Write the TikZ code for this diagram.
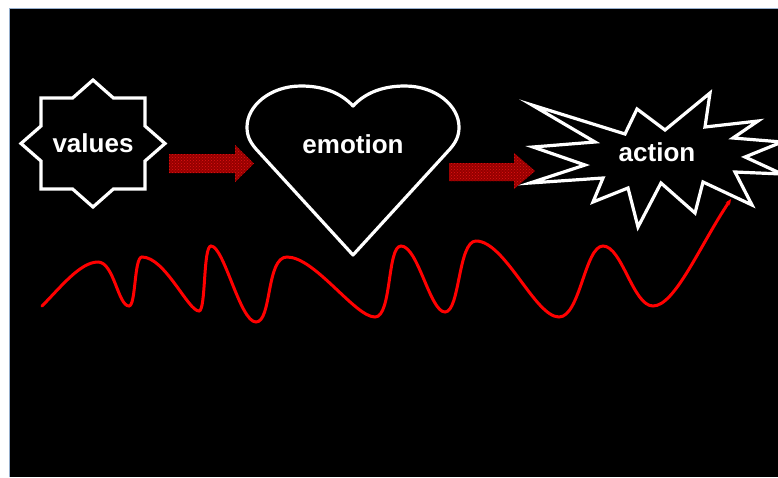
\documentclass[tikz,border=0pt]{standalone}
\usepackage{fontspec}
\setmainfont{Liberation Sans}
\usetikzlibrary{patterns,arrows.meta}
\definecolor{frame}{RGB}{150,175,205}
\definecolor{darkred}{RGB}{150,0,0}
\definecolor{hatchred}{RGB}{225,20,20}
\definecolor{wavered}{RGB}{255,0,0}
\tikzset{
  outline/.style={draw=white, line width=3.2pt, line join=miter, fill=black},
  label/.style={text=white, font=\fontsize{26}{30}\selectfont\bfseries, inner sep=0pt},
  blockarrow/.style={fill=darkred, postaction={pattern=crosshatch dots, pattern color=hatchred}},
  wave/.style={draw=wavered, line width=3pt, line cap=round}
}
\begin{document}
\begin{tikzpicture}[x=1pt,y=-1pt]
\useasboundingbox (0,0) rectangle (778,477);
\fill[white] (0,0) rectangle (778,477);
\fill[black] (9,8) rectangle (778,477);
\draw[frame, line width=1pt] (9,477) -- (9,8) -- (778,8);

% values star
\draw[outline, line join=miter] (93,80) -- (113.4,98) -- (145,98) -- (145,126) -- (165,143.5)
  -- (145,161) -- (145,189) -- (113.4,189) -- (93,207) -- (72.6,189) -- (41,189)
  -- (41,161) -- (21,143.5) -- (41,126) -- (41,98) -- (72.6,98) -- cycle;
\node[label] (values) at (93,143.5) {values};

% heart
\draw[outline, line join=round] (353,106)
  .. controls (340,92) and (322,86) .. (301,86)
  .. controls (270,86) and (247,106) .. (247,127)
  .. controls (247,136) and (250,142) .. (256,149)
  -- (353,255) -- (450,149)
  .. controls (456,142) and (459,136) .. (459,127)
  .. controls (459,106) and (436,86) .. (405,86)
  .. controls (384,86) and (366,92) .. (353,106) -- cycle;
\node[label] (emotion) at (353,144) {emotion};

% action burst
\draw[outline, line join=miter, miter limit=20] (532,105) -- (625,134) -- (637,109) -- (665,130)
  -- (710,93) -- (705,127) -- (758,121) -- (733,138) -- (782,142) -- (745,157)
  -- (782,174) -- (735,172) -- (752,205) -- (703,182) -- (695,213) -- (661,183)
  -- (638,227) -- (628,188) -- (593,202) -- (603,178) -- (530,183) -- (585,165)
  -- (533,147) -- (595,142) -- cycle;
\node[label] (action) at (657,152) {action};

% block arrows
\path[blockarrow] (169,154) -- (235,154) -- (235,145) -- (254,163.5) -- (235,182)
  -- (235,173) -- (169,173) -- cycle;
\path[blockarrow] (449,163) -- (514,163) -- (514,153) -- (535,171) -- (514,189)
  -- (514,181) -- (449,181) -- cycle;

% wave
\coordinate (ws) at (42,306);
\coordinate (we) at (731,199);
\draw[wave, -{Stealth[length=6pt,width=5pt]}] (ws)
  .. controls (60,288) and (80,262) .. (98,262)
  .. controls (114,262) and (118,306) .. (129,306)
  .. controls (136,306) and (134,257) .. (142,257)
  .. controls (165,257) and (188,311) .. (199,311)
  .. controls (206,311) and (203,246) .. (211,246)
  .. controls (224,246) and (240,322) .. (256,322)
  .. controls (272,322) and (266,257) .. (287,257)
  .. controls (315,257) and (355,317) .. (375,317)
  .. controls (392,317) and (387,246) .. (401,246)
  .. controls (418,246) and (430,312) .. (445,312)
  .. controls (460,312) and (458,241) .. (476,241)
  .. controls (505,241) and (535,317) .. (559,317)
  .. controls (580,317) and (585,246) .. (603,246)
  .. controls (622,246) and (633,306) .. (653,306)
  .. controls (675,306) and (700,245) .. (we);
\end{tikzpicture}
\end{document}
